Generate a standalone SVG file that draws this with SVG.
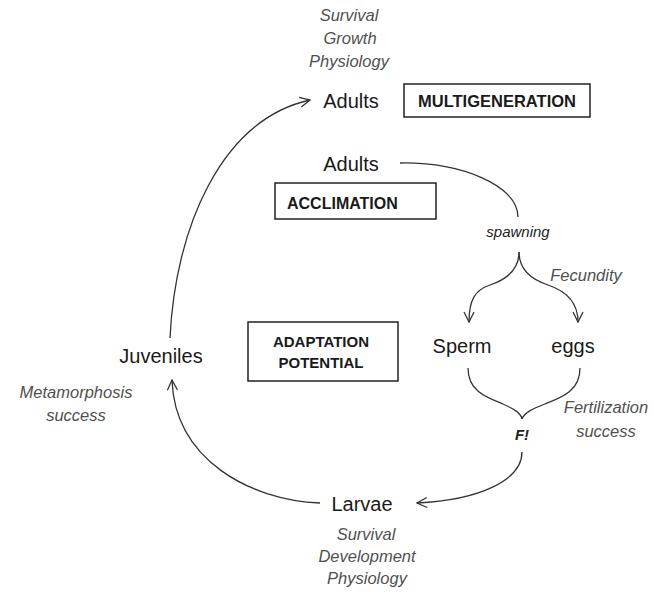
<svg xmlns="http://www.w3.org/2000/svg" width="654" height="592" viewBox="0 0 654 592">
<style>
  .node { font-family: "Liberation Sans", Arial, sans-serif; font-size: 20px; fill: #1a1a1a; }
  .note { font-family: "Liberation Sans", Arial, sans-serif; font-size: 16.5px; font-style: italic; fill: #505050; }
  .small { font-family: "Liberation Sans", Arial, sans-serif; font-size: 15px; font-style: italic; fill: #222; }
  .box { fill: #fff; stroke: #222; stroke-width: 1.5; }
  .boxtext { font-family: "Liberation Sans", Arial, sans-serif; font-weight: bold; fill: #1a1a1a; }
  .conn { fill: none; stroke: #333; stroke-width: 1.3; }
</style>
<defs>
  <marker id="arr" viewBox="0 0 12 12" refX="11" refY="6" markerWidth="12" markerHeight="12" markerUnits="userSpaceOnUse" orient="auto">
    <path d="M1,1 L11,6 L1,11" fill="none" stroke="#333" stroke-width="1.3"/>
  </marker>
</defs>
<rect width="654" height="592" fill="#fff"/>

<g id="connectors">
  <path class="conn" d="M170,338 C175,230 220,120 310,100" marker-end="url(#arr)"/>
  <path class="conn" d="M400,163 C460,162 518,185 518,217"/>
  <path class="conn" d="M519,252 C519,270 505,280 490,285 C475,290 469,300 469,322" marker-end="url(#arr)"/>
  <path class="conn" d="M519,252 C519,270 533,280 548,285 C563,290 578,300 578,322" marker-end="url(#arr)"/>
  <path class="conn" d="M468,368 C468,392 488,398 503,404 C514,409 521,413 522,419"/>
  <path class="conn" d="M580,368 C580,392 560,398 545,404 C532,409 524,413 522,419"/>
  <path class="conn" d="M522,452 C522,480 480,500 417,503" marker-end="url(#arr)"/>
  <path class="conn" d="M320,503 C250,500 175,460 172,380" marker-end="url(#arr)"/>
</g>

<g id="adults-top">
  <text class="note" x="349" y="21" text-anchor="middle">Survival</text>
  <text class="note" x="350" y="44" text-anchor="middle">Growth</text>
  <text class="note" x="349" y="67" text-anchor="middle">Physiology</text>
  <text class="node" x="351" y="108" text-anchor="middle">Adults</text>
</g>
<g id="multigeneration">
  <rect class="box" x="404" y="84" width="186" height="33"/>
  <text class="boxtext" x="497" y="107" text-anchor="middle" font-size="16.5">MULTIGENERATION</text>
</g>
<g id="adults-parent">
  <text class="node" x="351" y="171" text-anchor="middle">Adults</text>
</g>
<g id="acclimation">
  <rect class="box" x="275" y="183" width="161" height="36"/>
  <text class="boxtext" x="287" y="209" font-size="16">ACCLIMATION</text>
</g>
<g id="spawning">
  <text class="small" x="518" y="237" text-anchor="middle">spawning</text>
  <text class="note" x="586" y="281" text-anchor="middle">Fecundity</text>
</g>
<g id="sperm">
  <text class="node" x="462" y="353" text-anchor="middle">Sperm</text>
</g>
<g id="eggs">
  <text class="node" x="573" y="353" text-anchor="middle">eggs</text>
</g>
<g id="fertilization">
  <text class="small" x="522" y="440" text-anchor="middle" font-weight="bold">F!</text>
  <text class="note" x="606" y="413" text-anchor="middle" font-size="17px">Fertilization</text>
  <text class="note" x="606" y="437" text-anchor="middle" font-size="17px">success</text>
</g>
<g id="adaptation">
  <rect class="box" x="248" y="322" width="150" height="59"/>
  <text class="boxtext" x="321" y="347" text-anchor="middle" font-size="15">ADAPTATION</text>
  <text class="boxtext" x="321" y="368" text-anchor="middle" font-size="15">POTENTIAL</text>
</g>
<g id="juveniles">
  <text class="node" x="161" y="363" text-anchor="middle">Juveniles</text>
  <text class="note" x="76" y="398" text-anchor="middle">Metamorphosis</text>
  <text class="note" x="76" y="421" text-anchor="middle">success</text>
</g>
<g id="larvae">
  <text class="node" x="362" y="511" text-anchor="middle">Larvae</text>
  <text class="note" x="366" y="540" text-anchor="middle">Survival</text>
  <text class="note" x="367" y="562" text-anchor="middle">Development</text>
  <text class="note" x="367" y="584" text-anchor="middle">Physiology</text>
</g>
</svg>
